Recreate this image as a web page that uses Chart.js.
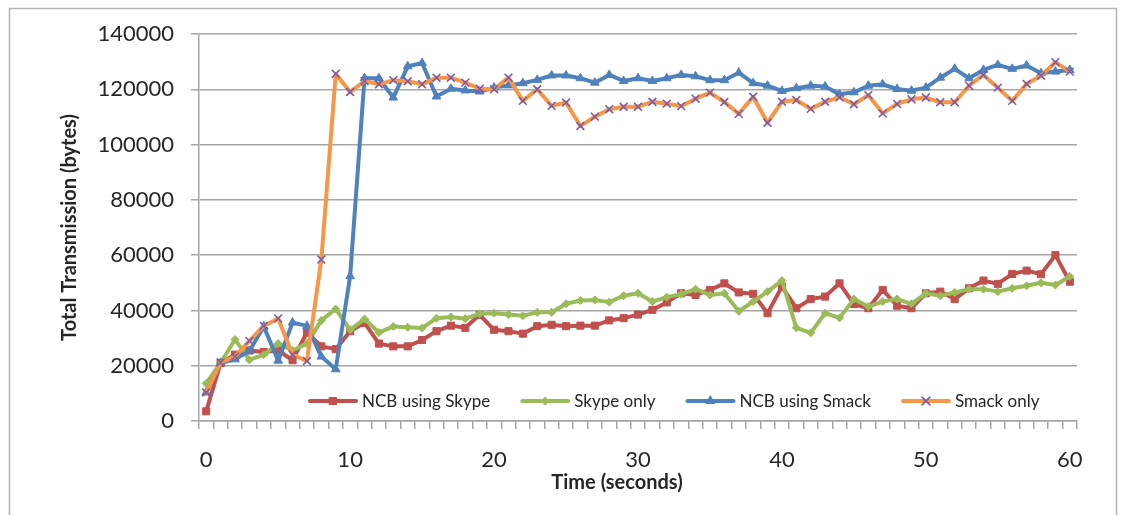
<!DOCTYPE html>
<html>
<head>
<meta charset="utf-8">
<script src="https://cdn.jsdelivr.net/npm/chart.js@4.4.0/dist/chart.umd.min.js"></script>
<style>
  html, body { margin: 0; padding: 0; background: #ffffff; }
  #wrap { width: 1123px; height: 515px; }
</style>
</head>
<body>
<div id="wrap"><canvas id="c" width="1123" height="515"></canvas></div>
<script>
// Time axis categories (seconds)
const seconds = [0,1,2,3,4,5,6,7,8,9,10,11,12,13,14,15,16,17,18,19,20,
  21,22,23,24,25,26,27,28,29,30,31,32,33,34,35,36,37,38,39,40,
  41,42,43,44,45,46,47,48,49,50,51,52,53,54,55,56,57,58,59,60];

// Labelled time ticks
const timeTickLabels = [0, 10, 20, 30, 40, 50, 60];

// Total bytes transmitted per series
const ncbSkype = [3500,21000,24000,25500,25000,25500,22000,32000,27000,26000,32500,
  35500,28000,27000,27000,29300,32500,34500,33700,38400,33000,
  32500,31600,34300,34800,34300,34500,34500,36400,37200,38500,
  40200,42900,46200,45600,47400,49800,46500,46000,39000,48600,
  40800,44100,45000,49800,42300,40800,47400,41700,40800,46200,
  46800,44100,48000,50800,49600,53200,54400,53100,60000,50400];

const skypeOnly = [13600,21000,29500,22100,24000,28000,25500,28000,36400,40500,33000,
  36900,32000,34200,33900,33600,37200,37600,37000,38800,39000,
  38500,38100,39300,39300,42400,43600,43800,43000,45300,46200,
  43200,44800,45900,47700,45600,46200,39700,43200,46800,50800,
  33700,31900,39000,37300,44100,41400,43200,44100,42400,46200,
  45300,46500,47700,47700,46800,48000,48900,50000,49200,52300];

const ncbSmack = [10300,21000,22300,25300,34200,21800,35600,34400,23300,18700,52400,
  124000,124000,117000,128300,129500,117400,120200,119600,119200,120600,
  121400,122200,123400,125000,125000,124000,122400,125200,123000,124000,
  123000,124000,125200,124700,123300,123300,126000,122200,121300,119400,
  120400,121300,121000,118200,118900,121300,121800,120100,119500,120600,
  124200,127400,124000,127000,128800,127400,128600,125800,126400,127000];

const smackOnly = [10300,21200,23300,29000,34400,37100,24000,21700,58400,125600,119000,
  123000,121800,123300,122900,121800,124200,124200,122400,120200,120000,
  124200,115800,120000,114000,115200,106700,110100,112800,113700,113700,
  115500,114800,113900,116600,118800,115400,111100,117300,107900,115500,
  116100,112900,115500,117100,114600,117900,111300,114700,116400,117000,
  115300,115300,121300,125200,120600,115800,121900,124900,129800,126400];

// Value axis range
const yMin = 0, yMax = 140000, yStep = 20000;

const FONT = 'Lato, "Open Sans", "Liberation Sans", sans-serif';
const TEXT = '#262626';
const GRID = '#a6a6a6';

// white page with a thin grey frame around the whole chart
const frame = {
  id: 'frame',
  beforeDraw(chart) {
    const ctx = chart.ctx;
    ctx.save();
    ctx.fillStyle = '#ffffff';
    ctx.fillRect(0, 0, chart.width, chart.height);
    ctx.strokeStyle = '#b4b4b4';
    ctx.lineWidth = 1.5;
    ctx.strokeRect(9.5, 8.5, 1107, 520);
    ctx.restore();
  }
};

// legend row drawn inside the plot, near the bottom
const plotLegend = {
  id: 'plotLegend',
  afterDatasetsDraw(chart) {
    const ctx = chart.ctx, area = chart.chartArea;
    let x = area.left + 109;
    const y = area.bottom - 20;
    ctx.save();
    ctx.font = '17px ' + FONT;
    ctx.textBaseline = 'middle';
    ctx.textAlign = 'left';
    chart.data.datasets.forEach(ds => {
      ctx.strokeStyle = ds.borderColor;
      ctx.lineWidth = ds.borderWidth;
      ctx.lineCap = 'round';
      ctx.beginPath();
      ctx.moveTo(x + 2, y);
      ctx.lineTo(x + 48, y);
      ctx.stroke();
      ctx.fillStyle = ds.pointBackgroundColor;
      ctx.strokeStyle = ds.pointBorderColor;
      ctx.lineWidth = ds.pointBorderWidth;
      Chart.helpers.drawPoint(ctx, {
        pointStyle: ds.pointStyle, radius: ds.pointRadius,
        borderWidth: ds.pointBorderWidth, rotation: 0
      }, x + 25, y);
      ctx.fillStyle = TEXT;
      ctx.fillText(ds.label, x + 54, y + 1);
      x += 54 + ctx.measureText(ds.label).width + 30;
    });
    ctx.restore();
  }
};

// axis titles
const axisTitles = {
  id: 'axisTitles',
  afterDraw(chart) {
    const ctx = chart.ctx, area = chart.chartArea;
    ctx.save();
    ctx.fillStyle = TEXT;
    ctx.font = 'bold 20px ' + FONT;
    ctx.textAlign = 'center';
    ctx.textBaseline = 'middle';
    ctx.fillText('Time (seconds)', area.left + 418, area.bottom + 62);
    ctx.translate(70, (area.top + area.bottom) / 2);
    ctx.rotate(-Math.PI / 2);
    ctx.fillText('Total Transmission (bytes)', 0, 0);
    ctx.restore();
  }
};

function series(label, data, color, style, radius, markerColor, markerWidth, order) {
  return {
    label, data, order,
    borderColor: color,
    backgroundColor: color,
    borderWidth: 4,
    borderJoinStyle: 'round',
    borderCapStyle: 'round',
    tension: 0,
    pointStyle: style,
    pointRadius: radius,
    pointBackgroundColor: markerColor,
    pointBorderColor: markerColor,
    pointBorderWidth: markerWidth,
    fill: false
  };
}

new Chart(document.getElementById('c'), {
  type: 'line',
  data: {
    labels: seconds,
    datasets: [
      series('NCB using Skype', ncbSkype, '#c0504d', 'rect', 5, '#c0504d', 1, 4),
      series('Skype only', skypeOnly, '#9bbb59', 'rectRot', 4, '#9bbb59', 1, 3),
      series('NCB using Smack', ncbSmack, '#4f81bd', 'triangle', 5, '#4f81bd', 1, 2),
      series('Smack only', smackOnly, '#f79646', 'crossRot', 5.5, '#7e5ba8', 1.6, 1)
    ]
  },
  options: {
    responsive: false,
    animation: false,
    events: [],
    layout: { padding: { left: 0, right: 46, top: 34, bottom: 0 } },
    plugins: {
      legend: { display: false },
      tooltip: { enabled: false },
      title: { display: false }
    },
    scales: {
      x: {
        type: 'category',
        offset: true,
        afterFit(scale) { scale.height = 94; },
        grid: {
          display: true,
          offset: true,
          drawOnChartArea: false,
          drawTicks: true,
          tickLength: 8,
          color: GRID,
          lineWidth: 1.5
        },
        border: { display: true, color: GRID, width: 1.5 },
        ticks: {
          autoSkip: false,
          maxRotation: 0,
          minRotation: 0,
          padding: 18,
          color: TEXT,
          font: { family: FONT, size: 22 },
          callback(value) {
            const s = seconds[value];
            return timeTickLabels.includes(s) ? String(s) : '';
          }
        }
      },
      y: {
        min: yMin,
        max: yMax,
        afterFit(scale) { scale.width = 199; },
        grid: {
          color: GRID,
          lineWidth: 1.5,
          drawTicks: true,
          tickLength: 8
        },
        border: { display: true, color: GRID, width: 1.5 },
        ticks: {
          stepSize: yStep,
          padding: 17,
          color: TEXT,
          font: { family: FONT, size: 22 },
          callback(value) { return String(value); }
        }
      }
    }
  },
  plugins: [frame, plotLegend, axisTitles]
});
</script>
</body>
</html>
